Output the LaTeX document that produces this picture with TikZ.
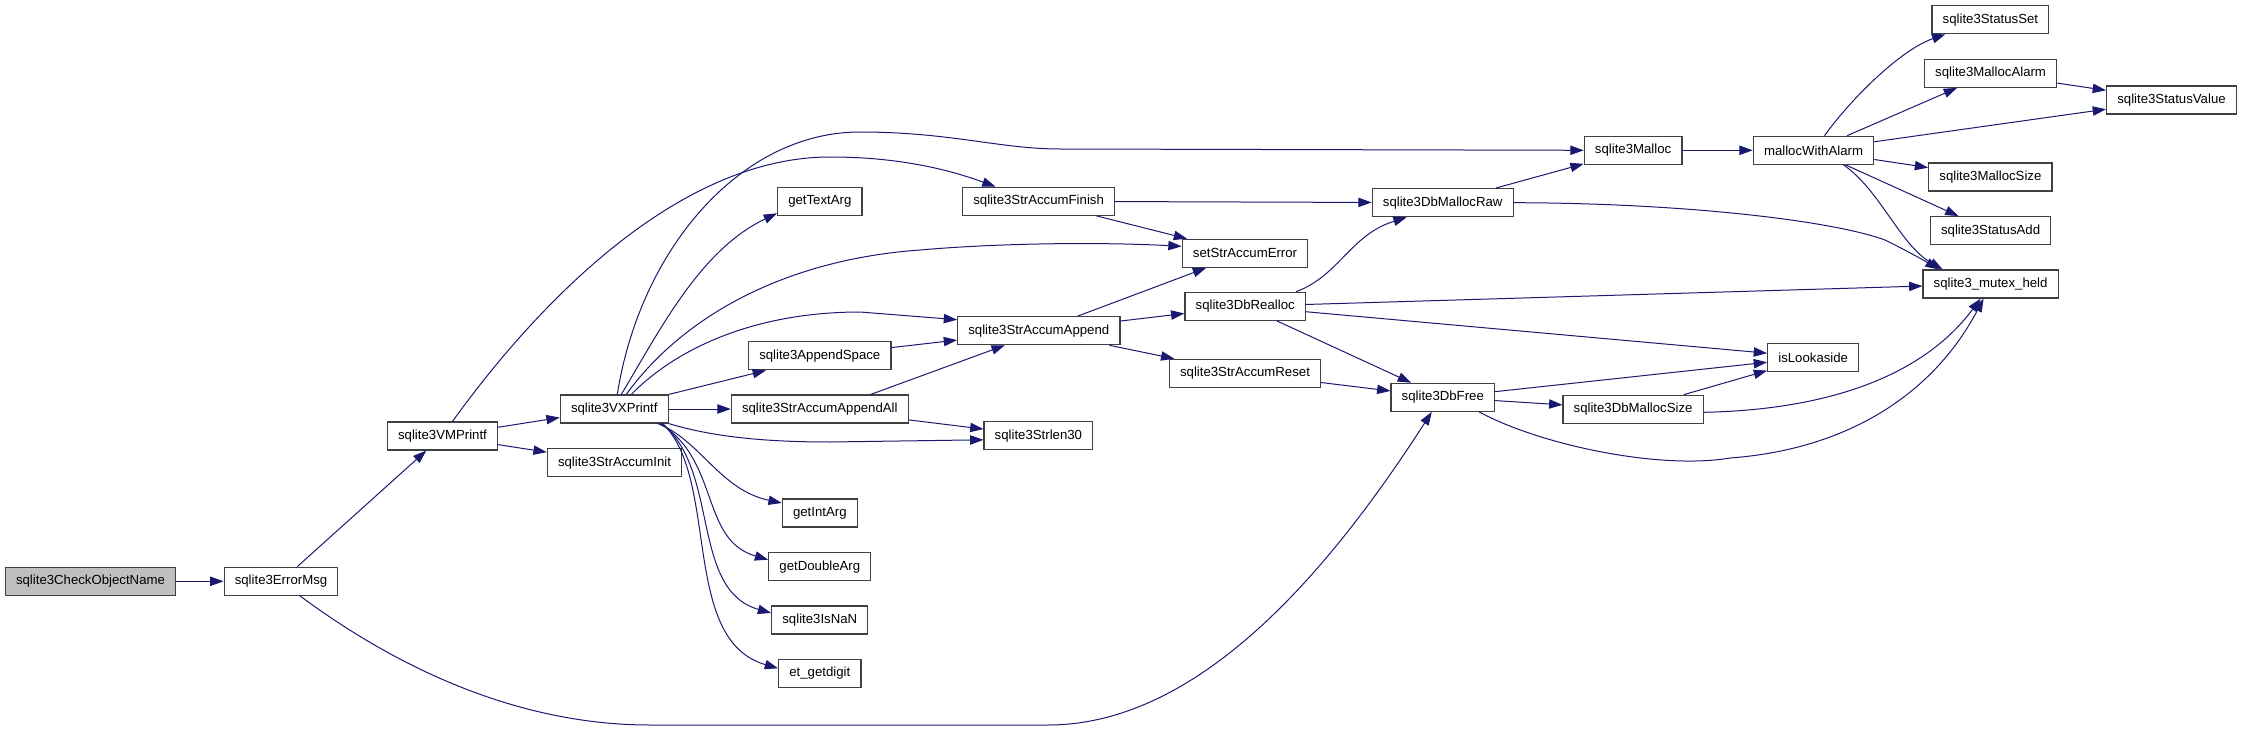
\documentclass[tikz,border=0pt]{standalone}
\usepackage{fontspec}
\setmainfont{Liberation Sans}
\usepackage{xcolor}
\usepackage{tikz}
\usetikzlibrary{arrows.meta,positioning,calc}
\definecolor{callblue}{HTML}{191970}
\definecolor{boxgray}{HTML}{BFBFBF}
\definecolor{boxline}{HTML}{404040}

\begin{document}
\begin{tikzpicture}[
    x=0.75pt,y=-0.75pt,
    fn/.style     = {draw=boxline, fill=white, line width=0.9pt,
                     minimum height=21pt, inner xsep=8pt, inner ysep=0pt,
                     font=\fontsize{9.9pt}{11pt}\selectfont},
    fnroot/.style = {fn, fill=boxgray},
    call/.style   = {-{Triangle[length=10pt,width=7pt]}, callblue,
                     line width=0.75pt},
  ]
  \useasboundingbox (0,0) rectangle (2243,731);

  % Caller chain, left
  \node[fnroot] (chk)  at (90.5,581.3)  {sqlite3CheckObjectName};
  \node[fn]     (err)  at (281,581.3)   {sqlite3ErrorMsg};
  \node[fn]     (vm)   at (442.5,436)   {sqlite3VMPrintf};
  \node[fn]     (vx)   at (614.3,409)   {sqlite3VXPrintf};
  \node[fn]     (init) at (614.5,462.7) {sqlite3StrAccumInit};

  % Helpers of the printf core
  \node[fn] (txt)    at (819.8,201.3) {getTextArg};
  \node[fn] (space)  at (819.8,355.8) {sqlite3AppendSpace};
  \node[fn] (all)    at (819.8,409)   {sqlite3StrAccumAppendAll};
  \node[fn] (intarg) at (819.8,513)   {getIntArg};
  \node[fn] (dbl)    at (819.8,566.7) {getDoubleArg};
  \node[fn] (nan)    at (819.8,620)   {sqlite3IsNaN};
  \node[fn] (dig)    at (819.8,673.3) {et\_getdigit};

  % String accumulator
  \node[fn] (fin)     at (1038.6,201.3) {sqlite3StrAccumFinish};
  \node[fn] (app)     at (1038.8,330.7) {sqlite3StrAccumAppend};
  \node[fn] (len)     at (1038.4,435.8) {sqlite3Strlen30};
  \node[fn] (seterr)  at (1245,253.3)   {setStrAccumError};
  \node[fn] (realloc) at (1245.2,306.3) {sqlite3DbRealloc};
  \node[fn] (reset)   at (1245,373.3)   {sqlite3StrAccumReset};

  % Memory layer
  \node[fn] (raw)     at (1442.7,202.7) {sqlite3DbMallocRaw};
  \node[fn] (free)    at (1442.8,397.3) {sqlite3DbFree};
  \node[fn] (malloc)  at (1633.1,150.3) {sqlite3Malloc};
  \node[fn] (dbsize)  at (1633.1,409.3) {sqlite3DbMallocSize};
  \node[fn] (alarm)   at (1813.5,150.3) {mallocWithAlarm};
  \node[fn] (look)    at (1813.2,357.3) {isLookaside};
  \node[fn] (stset)   at (1990.4,19.7)  {sqlite3StatusSet};
  \node[fn] (malarm)  at (1990.6,73.3)  {sqlite3MallocAlarm};
  \node[fn] (msize)   at (1990.4,177)   {sqlite3MallocSize};
  \node[fn] (stadd)   at (1990.6,230.7) {sqlite3StatusAdd};
  \node[fn] (mutex)   at (1990.6,284)   {sqlite3\_mutex\_held};
  \node[fn] (stvalue) at (2171.5,100)   {sqlite3StatusValue};

  % Calls, left part
  \draw[call] (chk) -- (err);
  \draw[call] (err) -- (vm);
  \draw[call] ($(err.south)+(19,0)$) .. controls (400,670) and (520,725) .. (650,725)
       -- (1048,725) .. controls (1200,725) and (1330,570) .. ($(free.south)+(-11,0)$);
  \draw[call] (vm) -- (vx);
  \draw[call] (vm) -- (init);
  \draw[call] ($(vm.north)+(10,0)$) .. controls (540,300) and (680,157) .. (830,157)
       .. controls (900,157) and (950,170) .. ($(fin.north)+(-43,0)$);

  % Calls out of sqlite3VXPrintf
  \draw[call] ($(vx.north)+(3,0)$) .. controls (640,250) and (740,132) .. (860,132)
       .. controls (950,132) and (1000,149) .. (1060,149) -- (malloc.west);
  \draw[call] ($(vx.north)+(7,0)$) .. controls (660,330) and (700,250) .. ($(txt.west)+(0,12)$);
  \draw[call] ($(vx.north)+(12,0)$) .. controls (680,320) and (780,260) .. (920,250)
       .. controls (1000,243) and (1100,242) .. ($(seterr.west)+(0,-7)$);
  \draw[call] ($(vx.north)+(17,0)$) .. controls (680,345) and (760,312) .. (860,312)
       -- ($(app.west)+(0,-11)$);
  \draw[call] (vx.north east) -- ($(space.south west)+(18,0)$);
  \draw[call] (vx) -- (all);
  \draw[call] (vx.south east) .. controls (710,436) and (760,442) .. (830,442)
       -- ($(len.west)+(0,4)$);
  \draw[call] ($(vx.south east)+(-11,0)$) .. controls (700,440) and (720,490) .. ($(intarg.west)+(0,-10)$);
  \draw[call] ($(vx.south east)+(-9,0)$) .. controls (720,460) and (700,540) .. ($(dbl.west)+(0,-7)$);
  \draw[call] ($(vx.south east)+(-7,0)$) .. controls (720,470) and (690,590) .. ($(nan.west)+(0,-7)$);
  \draw[call] ($(vx.south east)+(-6,0)$) .. controls (720,480) and (680,640) .. ($(dig.west)+(0,-5)$);

  % String accumulator calls
  \draw[call] (space) -- (app);
  \draw[call] ($(all.north)+(51,0)$) -- ($(app.south)+(-34,0)$);
  \draw[call] (all) -- (len);
  \draw[call] (fin) -- (raw);
  \draw[call] (fin) -- (seterr);
  \draw[call] (app) -- (seterr);
  \draw[call] (app) -- (realloc);
  \draw[call] (app) -- (reset);
  \draw[call] (reset) -- (free);

  % Memory layer calls
  \draw[call] ($(realloc.north)+(51,0)$) .. controls (1340,275) and (1350,235) .. ($(raw.south)+(-36,0)$);
  \draw[call] (realloc) -- (mutex);
  \draw[call] (realloc) -- (look);
  \draw[call] (realloc) -- (free);
  \draw[call] (raw) -- (malloc);
  \draw[call] (raw.east) .. controls (1680,203) and (1830,220) .. (1885,240)
       .. controls (1905,250) and (1920,258) .. ($(mutex.north)+(-52,0)$);
  \draw[call] (malloc) -- (alarm);
  \draw[call] ($(alarm.north)+(11,0)$) .. controls (1850,100) and (1900,50) .. ($(stset.south)+(-45,0)$);
  \draw[call] (alarm) -- (malarm);
  \draw[call] (alarm) -- (stvalue);
  \draw[call] (malarm) -- (stvalue);
  \draw[call] (alarm) -- (msize);
  \draw[call] (alarm) -- (stadd);
  \draw[call] ($(alarm.south)+(30,0)$) .. controls (1880,190) and (1900,245) .. ($(mutex.north)+(-48,0)$);
  \draw[call] (free) -- (look);
  \draw[call] (free) -- (dbsize);
  \draw[call] (dbsize) -- (look);
  \draw[call] ($(dbsize.east)+(0,3)$) .. controls (1820,410) and (1920,380) .. ($(mutex.south)+(-10,0)$);
  \draw[call] ($(free.south east)+(-16,0)$) .. controls (1540,445) and (1660,470) .. (1730,458)
       .. controls (1840,450) and (1930,400) .. ($(mutex.south)+(-7,0)$);

\end{tikzpicture}
\end{document}
